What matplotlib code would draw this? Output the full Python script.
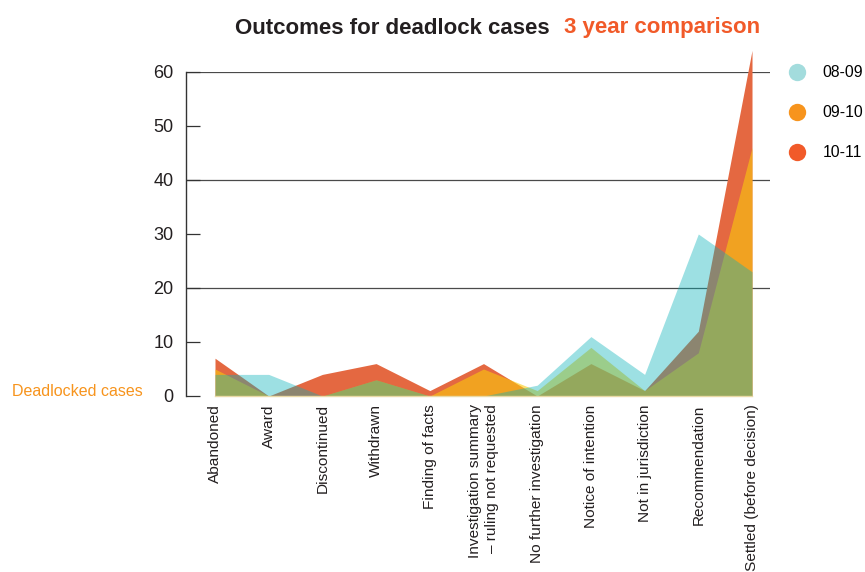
import matplotlib
matplotlib.use("Agg")
import matplotlib.pyplot as plt
from matplotlib.lines import Line2D
import numpy as np

plt.rcParams['font.family'] = ['Liberation Sans', 'DejaVu Sans']

# outcome categories (x axis)
categories = [
    "Abandoned", "Award", "Discontinued", "Withdrawn", "Finding of facts",
    "Investigation summary\n\u2013 ruling not requested",
    "No further investigation", "Notice of intention", "Not in jurisdiction",
    "Recommendation", "Settled (before decision)",
]

# number of deadlocked cases per year
cases_0809 = [4, 4, 0, 3, 0, 0, 2, 11, 4, 30, 23]
cases_0910 = [5, 0, 0, 3, 0, 5, 1, 9, 1, 8, 46]
cases_1011 = [7, 0, 4, 6, 1, 6, 0, 6, 1, 12, 64]

years = ["08-09", "09-10", "10-11"]
legend_colors = ["#a3dcdd", "#f7941d", "#f15a29"]

y_ticks = [0, 10, 20, 30, 40, 50, 60]
grid_lines = [20, 40, 60]

x = np.arange(len(categories))

fig = plt.figure(figsize=(8.65, 5.72), dpi=100)
ax = fig.add_axes([186 / 865, 1 - 396 / 572, 584 / 865, 324 / 572])

# full gridlines every 20, short inward ticks for the rest
ax.hlines(grid_lines, -0.54, 10.335, colors="#4a4a4a", linewidth=0.9, zorder=0)

# layered areas: red at the back, yellow-orange and cyan translucent on top
ax.fill_between(x, 0, cases_1011, color="#e46841", linewidth=0, clip_on=False, zorder=1)
ax.fill_between(x, 0, cases_0910, color="#faca0d", alpha=0.6, linewidth=0, clip_on=False, zorder=2)
ax.fill_between(x, 0, cases_0809, color="#0ab2b9", alpha=0.4, linewidth=0, clip_on=False, zorder=3)
ax.plot([x[0], x[-1]], [0, 0], color="#e9d9a6", linewidth=1.0, zorder=4, clip_on=False)

ax.set_xlim(-0.54, 10.335)
ax.set_ylim(0, 60)

for side in ["top", "right", "bottom"]:
    ax.spines[side].set_visible(False)
ax.spines["left"].set_color("#333333")
ax.spines["left"].set_linewidth(1.0)

ax.set_yticks(y_ticks)
ax.set_yticklabels([str(v) for v in y_ticks])
ax.tick_params(axis="y", direction="in", length=10, width=0.9, color="#333333",
               labelsize=13, labelcolor="#231f20", pad=9)

ax.set_xticks(x)
ax.set_xticklabels(categories, rotation=90, fontsize=11.1, color="#231f20",
                   va="top", ha="center", multialignment="right")
ax.tick_params(axis="x", length=0, pad=6)

# title in two colours
fig.text(550 / 865, 1 - 28 / 572, "Outcomes for deadlock cases", fontsize=16,
         fontweight="bold", color="#231f20", ha="right", va="center")
fig.text(564 / 865, 1 - 28 / 572, "3 year comparison", fontsize=16,
         fontweight="bold", color="#f15a29", ha="left", va="center")

fig.text(12 / 865, 1 - 392 / 572, "Deadlocked cases", fontsize=11.5,
         color="#f7941d", ha="left", va="center")

handles = [Line2D([], [], marker="o", linestyle="none", markersize=12.5,
                  markerfacecolor=c, markeredgecolor="none") for c in legend_colors]
fig.legend(handles, years, loc="upper left", bbox_to_anchor=(789 / 865, 1 - 65 / 572),
           frameon=False, fontsize=11.3, handlelength=1.0, handletextpad=1.15,
           labelspacing=1.6, borderpad=0, borderaxespad=0)

fig.savefig("out.png", dpi=100)
